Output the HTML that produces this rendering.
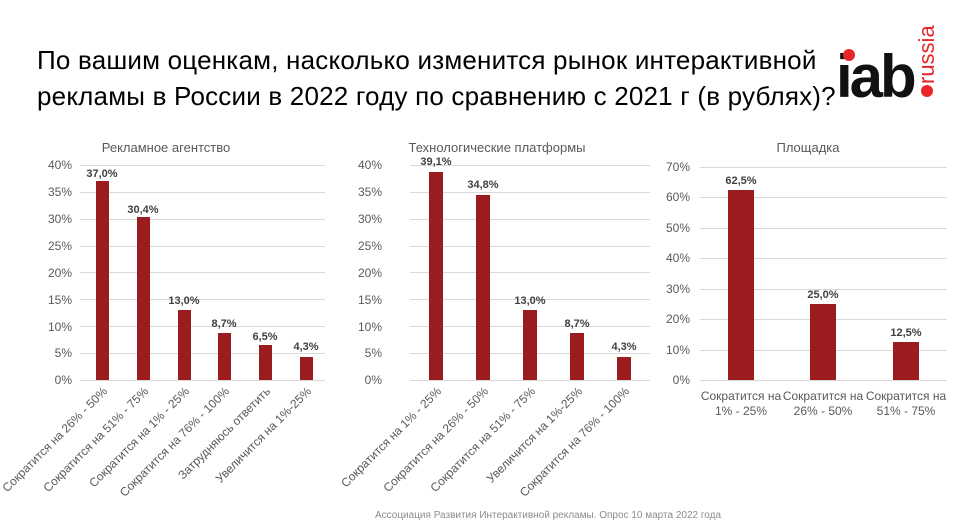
<!DOCTYPE html>
<html><head><meta charset="utf-8"><style>
body{margin:0;background:#fff;}
svg{display:block;font-family:"Liberation Sans",sans-serif;}
.ax{font-size:12px;fill:#595959;}
.dl{font-size:11px;font-weight:bold;fill:#404040;text-anchor:middle;}
.ct{font-size:13px;fill:#595959;}
.g{stroke:#d9d9d9;stroke-width:1;}
.b{fill:#9b1c1f;}
</style></head><body>
<svg width="958" height="527" viewBox="0 0 958 527">
<text x="37" y="69" font-size="26" fill="#000" letter-spacing="0.2">По вашим оценкам, насколько изменится рынок интерактивной</text>
<text x="37" y="105" font-size="26" fill="#000" letter-spacing="0.2">рекламы в России в 2022 году по сравнению с 2021 г (в рублях)?</text>
<text x="836" y="97" font-size="60" font-weight="bold" fill="#111" letter-spacing="-3">iab</text>
<circle cx="849" cy="55" r="6" fill="#e8262a"/>
<circle cx="927" cy="91" r="6" fill="#e8262a"/>
<text transform="translate(934,84) rotate(-90)" font-size="22" fill="#e8262a">russia</text>

<!-- Chart 1 -->
<text x="166" y="152" class="ct" text-anchor="middle">Рекламное агентство</text>
<g class="ax" text-anchor="end">
<text x="72" y="384">0%</text><text x="72" y="357">5%</text><text x="72" y="331">10%</text><text x="72" y="304">15%</text><text x="72" y="277">20%</text><text x="72" y="250">25%</text><text x="72" y="223">30%</text><text x="72" y="196">35%</text><text x="72" y="169">40%</text>
</g>
<g class="g">
<line x1="80" x2="325" y1="380.5" y2="380.5"/><line x1="80" x2="325" y1="353.5" y2="353.5"/><line x1="80" x2="325" y1="326.5" y2="326.5"/><line x1="80" x2="325" y1="299.5" y2="299.5"/><line x1="80" x2="325" y1="272.5" y2="272.5"/><line x1="80" x2="325" y1="246.5" y2="246.5"/><line x1="80" x2="325" y1="219.5" y2="219.5"/><line x1="80" x2="325" y1="192.5" y2="192.5"/><line x1="80" x2="325" y1="165.5" y2="165.5"/>
</g>
<rect class="b" x="96" y="181" width="13" height="199"/>
<rect class="b" x="137" y="217" width="13" height="163"/>
<rect class="b" x="178" y="310" width="13" height="70"/>
<rect class="b" x="218" y="333" width="13" height="47"/>
<rect class="b" x="259" y="345" width="13" height="35"/>
<rect class="b" x="300" y="357" width="13" height="23"/>
<text class="dl" x="102" y="177">37,0%</text>
<text class="dl" x="143" y="213">30,4%</text>
<text class="dl" x="184" y="304">13,0%</text>
<text class="dl" x="224" y="327">8,7%</text>
<text class="dl" x="265" y="340">6,5%</text>
<text class="dl" x="306" y="350">4,3%</text>
<g class="ax" text-anchor="end" font-size="12">
<text transform="translate(108,392) rotate(-45)">Сократится на 26% - 50%</text>
<text transform="translate(149,392) rotate(-45)">Сократится на 51% - 75%</text>
<text transform="translate(190,392) rotate(-45)">Сократится на 1% - 25%</text>
<text transform="translate(230,392) rotate(-45)">Сократится на 76% - 100%</text>
<text transform="translate(271,392) rotate(-45)">Затрудняюсь ответить</text>
<text transform="translate(312,392) rotate(-45)">Увеличится на 1%-25%</text>
</g>

<!-- Chart 2 -->
<text x="497" y="152" class="ct" text-anchor="middle">Технологические платформы</text>
<g class="ax" text-anchor="end">
<text x="382" y="384">0%</text><text x="382" y="357">5%</text><text x="382" y="331">10%</text><text x="382" y="304">15%</text><text x="382" y="277">20%</text><text x="382" y="250">25%</text><text x="382" y="223">30%</text><text x="382" y="196">35%</text><text x="382" y="169">40%</text>
</g>
<g class="g">
<line x1="410" x2="650" y1="380.5" y2="380.5"/><line x1="410" x2="650" y1="353.5" y2="353.5"/><line x1="410" x2="650" y1="326.5" y2="326.5"/><line x1="410" x2="650" y1="299.5" y2="299.5"/><line x1="410" x2="650" y1="272.5" y2="272.5"/><line x1="410" x2="650" y1="246.5" y2="246.5"/><line x1="410" x2="650" y1="219.5" y2="219.5"/><line x1="410" x2="650" y1="192.5" y2="192.5"/><line x1="410" x2="650" y1="165.5" y2="165.5"/>
</g>
<rect class="b" x="429" y="172" width="14" height="208"/>
<rect class="b" x="476" y="195" width="14" height="185"/>
<rect class="b" x="523" y="310" width="14" height="70"/>
<rect class="b" x="570" y="333" width="14" height="47"/>
<rect class="b" x="617" y="357" width="14" height="23"/>
<text class="dl" x="436" y="165">39,1%</text>
<text class="dl" x="483" y="188">34,8%</text>
<text class="dl" x="530" y="304">13,0%</text>
<text class="dl" x="577" y="327">8,7%</text>
<text class="dl" x="624" y="350">4,3%</text>
<g class="ax" text-anchor="end" font-size="12">
<text transform="translate(442,392) rotate(-45)">Сократится на 1% - 25%</text>
<text transform="translate(489,392) rotate(-45)">Сократится на 26% - 50%</text>
<text transform="translate(536,392) rotate(-45)">Сократится на 51% - 75%</text>
<text transform="translate(583,392) rotate(-45)">Увеличится на 1%-25%</text>
<text transform="translate(630,392) rotate(-45)">Сократится на 76% - 100%</text>
</g>

<!-- Chart 3 -->
<text x="808" y="152" class="ct" text-anchor="middle">Площадка</text>
<g class="ax" text-anchor="end">
<text x="690" y="384">0%</text><text x="690" y="354">10%</text><text x="690" y="323">20%</text><text x="690" y="293">30%</text><text x="690" y="262">40%</text><text x="690" y="232">50%</text><text x="690" y="201">60%</text><text x="690" y="171">70%</text>
</g>
<g class="g">
<line x1="700" x2="947" y1="380.5" y2="380.5"/><line x1="700" x2="947" y1="350.5" y2="350.5"/><line x1="700" x2="947" y1="319.5" y2="319.5"/><line x1="700" x2="947" y1="289.5" y2="289.5"/><line x1="700" x2="947" y1="258.5" y2="258.5"/><line x1="700" x2="947" y1="228.5" y2="228.5"/><line x1="700" x2="947" y1="197.5" y2="197.5"/><line x1="700" x2="947" y1="167.5" y2="167.5"/>
</g>
<rect class="b" x="728" y="190" width="26" height="190"/>
<rect class="b" x="810" y="304" width="26" height="76"/>
<rect class="b" x="893" y="342" width="26" height="38"/>
<text class="dl" x="741" y="184">62,5%</text>
<text class="dl" x="823" y="298">25,0%</text>
<text class="dl" x="906" y="336">12,5%</text>
<g class="ax" text-anchor="middle">
<text x="741" y="400">Сократится на</text><text x="741" y="415">1% - 25%</text>
<text x="823" y="400">Сократится на</text><text x="823" y="415">26% - 50%</text>
<text x="906" y="400">Сократится на</text><text x="906" y="415">51% - 75%</text>
</g>

<text x="548" y="518" font-size="10" fill="#8c8c8c" text-anchor="middle">Ассоциация Развития Интерактивной рекламы. Опрос 10 марта 2022 года</text>
</svg>
</body></html>
